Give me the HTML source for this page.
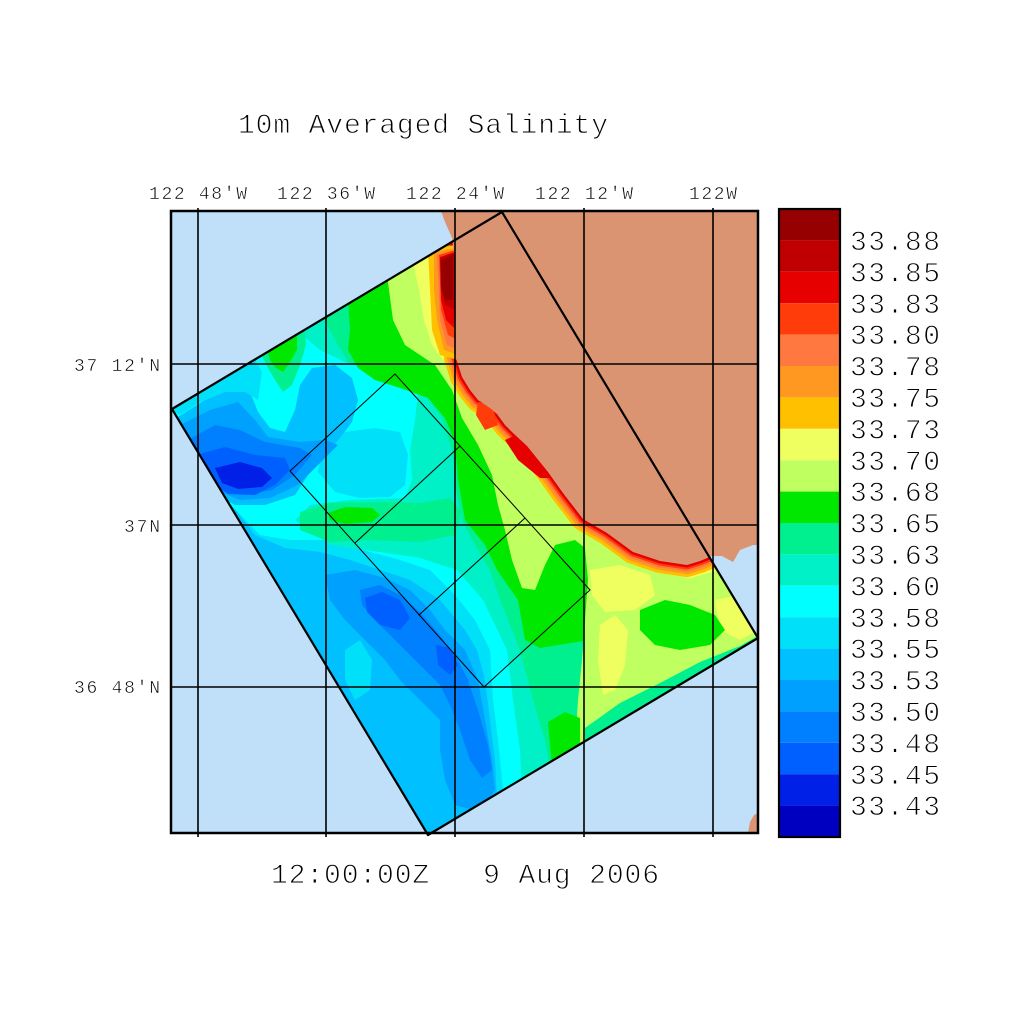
<!DOCTYPE html>
<html>
<head>
<meta charset="utf-8">
<style>
html,body{margin:0;padding:0;background:#fff;}
svg{display:block;}
text{font-family:"Liberation Mono","DejaVu Sans Mono",monospace;fill:#000;}
</style>
</head>
<body>
<svg width="1024" height="1024" viewBox="0 0 1024 1024" xmlns="http://www.w3.org/2000/svg">
<rect width="1024" height="1024" fill="#fff"/>
<defs>
<clipPath id="dom"><polygon points="172,409 502,212 758,638 428,835"/></clipPath>
<clipPath id="frm"><rect x="171" y="211" width="587" height="622"/></clipPath>
</defs>

<rect x="171" y="211" width="587" height="622" fill="#c0e0fa"/>

<g clip-path="url(#dom)">
  <rect x="150" y="200" width="620" height="650" fill="#00c0ff"/>
  <polygon fill="#00e0f8" points="150,100 150,470 228,500 255,535 285,548 320,552 350,560 380,570 410,580 440,600 465,630 477,650 485,680 490,720 495,760 497,800 490,850 900,900 900,100"/>
  <polygon fill="#00ffff" points="150,100 150,480 226,500 260,535 290,540 330,540 370,552 400,560 430,570 455,595 475,620 490,650 493,700 498,740 503,790 505,850 900,900 900,100"/>
  <polygon fill="#00f0c8" points="300,100 300,333 320,350 345,362 380,372 405,378 418,392 415,420 410,450 412,480 405,498 350,500 310,505 295,520 330,545 380,552 420,558 457,570 483,600 507,650 513,700 520,750 522,790 525,850 900,900 900,100"/>
  <polygon fill="#00f090" points="322,100 322,315 335,340 348,362 390,378 422,390 442,418 452,450 456,490 462,520 475,545 490,570 500,600 520,650 533,700 545,740 550,768 555,850 900,900 900,100"/>
  <polygon fill="#00e800" points="348,100 348,298 350,330 348,350 358,368 375,380 400,388 428,398 445,418 455,442 458,480 465,520 485,545 497,570 518,600 525,640 540,648 590,640 900,640 900,100"/>
  <polygon fill="#c0ff60" points="387,100 387,275 393,320 405,345 435,365 452,390 462,418 478,445 492,475 498,505 505,530 512,560 522,588 535,590 545,565 555,545 575,540 585,548 588,580 585,620 582,660 578,700 575,745 580,850 900,850 900,100"/>
  <polygon fill="#f0ff60" points="413,262 419,290 424,320 432,345 447,365 464,392 480,410 497,430 517,455 537,478 557,500 577,522 600,540 630,558 660,572 690,578 720,570 760,560 760,180 440,180 414,230"/>

  <polygon fill="#00e0f8" points="322,452 345,432 375,428 400,432 408,455 405,485 390,497 360,498 335,492 318,472"/>
  <polygon fill="#00f090" points="300,512 330,503 380,502 420,503 450,498 462,512 455,535 420,542 370,540 330,542 300,530"/>
  <polygon fill="#00e800" points="328,513 345,507 372,508 380,515 372,522 345,524 330,520"/>

  <polygon fill="#00c0ff" points="178,417 205,400 235,388 250,392 258,412 270,428 285,432 295,410 300,385 312,368 335,365 352,378 358,400 352,422 340,438 325,455 308,475 295,495 265,505 235,505 210,490 190,460"/>
  <polygon fill="#00e0f8" points="165,405 252,355 262,372 258,400 245,392 225,392 200,402 180,415"/>
  <polygon fill="#00a0ff" points="180,425 210,410 238,402 255,420 268,437 300,442 325,440 338,445 318,465 298,485 270,498 240,500 215,490 195,465"/>
  <polygon fill="#0080ff" points="188,440 215,425 240,430 265,442 300,448 312,455 295,475 272,490 245,495 220,490 200,470"/>
  <polygon fill="#0060ff" points="196,455 225,447 255,455 285,458 290,470 275,485 255,495 228,494 208,480"/>
  <polygon fill="#0020e8" points="215,468 240,462 262,468 272,478 262,487 238,489 222,483"/>

  <polygon fill="#00f090" points="262,356 305,330 306,345 300,365 292,385 283,392 275,380 268,368"/>
  <polygon fill="#00e800" points="268,352 297,334 297,350 290,362 283,372 276,368 270,360"/>

  <polygon fill="#00e0f8" points="345,650 360,640 372,660 370,690 355,700 345,680"/>
  <polygon fill="#00a0ff" points="325,575 355,570 385,578 410,590 430,610 445,630 465,650 478,680 485,720 492,760 495,790 480,812 455,805 445,780 440,750 440,720 420,700 400,680 385,660 365,640 345,620 330,600"/>
  <polygon fill="#0080ff" points="360,590 380,585 400,595 420,612 440,635 455,655 468,680 478,710 488,745 492,770 482,778 470,760 460,730 450,705 440,685 420,665 395,640 375,620 362,605"/>
  <polygon fill="#0060ff" points="365,598 382,592 400,600 410,618 400,630 380,625 367,612"/>
  <polygon fill="#0060ff" points="436,645 450,648 458,665 450,675 438,665"/>

  <polygon fill="#00e800" points="548,722 565,712 580,718 580,748 552,768"/>
  <polygon fill="#00f090" points="585,728 620,703 660,683 700,662 740,646 765,632 765,720 585,780"/>
  <polygon fill="#f0ff60" points="590,570 620,565 650,575 655,595 635,610 605,612 592,595"/>
  <polygon fill="#f0ff60" points="600,625 615,615 628,630 625,665 615,690 603,695 598,660"/>
  <polygon fill="#f0ff60" points="715,600 740,595 758,630 740,640 720,630"/>
  <polygon fill="#00e800" points="640,610 665,600 690,605 715,615 725,630 710,645 680,650 655,645 640,630"/>

  <g fill="none" stroke-linejoin="round" stroke-linecap="round">
    <path d="M445,200 L450,230 L454,250 L455,290 L454,330 L456,358 L462,377 L470,390 L478,400 L490,408 L497,414 L505,425 L513,433 L527,446 L548,472 L563,493 L583,519 L607,533 L633,552 L660,561 L687,565 L700,561 L712,556 L730,558" stroke="#ffc000" stroke-width="24"/>
    <path d="M445,200 L450,230 L454,250 L455,290 L454,330 L456,358 L462,377 L470,390 L478,400 L490,408 L497,414 L505,425 L513,433 L527,446 L548,472 L563,493 L583,519 L607,533 L633,552 L660,561 L687,565 L700,561 L712,556 L730,558" stroke="#ff9820" stroke-width="18"/>
    <path d="M445,200 L450,230 L454,250 L455,290 L454,330 L456,358 L462,377 L470,390 L478,400 L490,408 L497,414 L505,425 L513,433 L527,446 L548,472 L563,493 L583,519 L607,533 L633,552 L660,561 L687,565 L700,561 L712,556 L730,558" stroke="#ff7840" stroke-width="13"/>
    <path d="M445,200 L450,230 L454,250 L455,290 L454,330 L456,358 L462,377 L470,390 L478,400 L490,408 L497,414 L505,425 L513,433 L527,446 L548,472 L563,493 L583,519 L607,533 L633,552 L660,561 L687,565 L700,561 L712,556 L730,558" stroke="#ff3c0a" stroke-width="9"/>
    <path d="M445,200 L450,230 L454,250 L455,290 L454,330 L456,358 L462,377 L470,390 L478,400 L490,408 L497,414 L505,425 L513,433 L527,446 L548,472 L563,493 L583,519 L607,533 L633,552 L660,561 L687,565 L700,561 L712,556 L730,558" stroke="#e60000" stroke-width="5"/>
  </g>
  <polygon fill="#ffc000" points="428,250 455,245 458,360 440,355 432,330 430,290"/>
  <polygon fill="#ff9820" points="434,252 455,248 458,355 444,350 437,320 434,290"/>
  <polygon fill="#ff7840" points="437,255 455,250 458,350 447,345 440,320"/>
  <polygon fill="#ff3c0a" points="439,255 455,250 458,340 448,335 441,310"/>
  <polygon fill="#e60000" points="440,257 455,252 456,330 446,320 441,300"/>
  <polygon fill="#c00000" points="440,258 455,252 455,310 445,305 441,290"/>
  <polygon fill="#960000" points="441,260 453,255 453,300 445,300 441,285"/>
  <polygon fill="#e60000" points="505,440 520,433 548,465 552,478 540,478 518,460"/>
  <polygon fill="#ff3c0a" points="478,402 492,405 498,425 485,430 476,415"/>
</g>

<g clip-path="url(#frm)">
  <polygon fill="#da9472" points="441,211 758,211 758,545 753,545 740,550 733,562 722,556 712,556 700,561 687,565 660,561 633,552 607,533 583,519 563,493 548,472 527,446 513,433 505,425 497,414 490,408 478,400 470,390 462,377 456,358 454,330 455,290 455,260 452,238 445,222"/>
  <polygon fill="#da9472" points="748,833 750,822 754,815 758,813 758,833"/>
</g>

<g stroke="#000" stroke-width="1.6">
  <line x1="198" y1="208" x2="198" y2="837"/>
  <line x1="326" y1="208" x2="326" y2="837"/>
  <line x1="455" y1="208" x2="455" y2="837"/>
  <line x1="584" y1="208" x2="584" y2="837"/>
  <line x1="713" y1="208" x2="713" y2="837"/>
  <line x1="171" y1="364" x2="758" y2="364"/>
  <line x1="171" y1="525" x2="758" y2="525"/>
  <line x1="171" y1="687" x2="758" y2="687"/>
</g>

<g stroke="#000" stroke-width="1" fill="none">
  <polygon points="395,374 590,590 484,687 290,471"/>
  <line x1="460" y1="446" x2="355" y2="543"/>
  <line x1="525" y1="518" x2="419" y2="615"/>
</g>

<polygon points="172,409 502,212 758,638 428,835" fill="none" stroke="#000" stroke-width="2.2" stroke-linejoin="round"/>

<rect x="171" y="211" width="587" height="622" fill="none" stroke="#000" stroke-width="2.5"/>

<g>
  <rect x="779" y="209.0" width="61" height="31.4" fill="#960000"/>
  <rect x="779" y="240.4" width="61" height="31.4" fill="#c00000"/>
  <rect x="779" y="271.8" width="61" height="31.4" fill="#e60000"/>
  <rect x="779" y="303.2" width="61" height="31.4" fill="#ff3c0a"/>
  <rect x="779" y="334.6" width="61" height="31.4" fill="#ff7840"/>
  <rect x="779" y="366.0" width="61" height="31.4" fill="#ff9820"/>
  <rect x="779" y="397.4" width="61" height="31.4" fill="#ffc000"/>
  <rect x="779" y="428.8" width="61" height="31.4" fill="#f0ff60"/>
  <rect x="779" y="460.2" width="61" height="31.4" fill="#c0ff60"/>
  <rect x="779" y="491.6" width="61" height="31.4" fill="#00e800"/>
  <rect x="779" y="523.0" width="61" height="31.4" fill="#00f090"/>
  <rect x="779" y="554.4" width="61" height="31.4" fill="#00f0c8"/>
  <rect x="779" y="585.8" width="61" height="31.4" fill="#00ffff"/>
  <rect x="779" y="617.2" width="61" height="31.4" fill="#00e0f8"/>
  <rect x="779" y="648.6" width="61" height="31.4" fill="#00c0ff"/>
  <rect x="779" y="680.0" width="61" height="31.4" fill="#00a0ff"/>
  <rect x="779" y="711.4" width="61" height="31.4" fill="#0080ff"/>
  <rect x="779" y="742.8" width="61" height="31.4" fill="#0060ff"/>
  <rect x="779" y="774.2" width="61" height="31.4" fill="#0020e8"/>
  <rect x="779" y="805.6" width="61" height="31.4" fill="#0000c0"/>
  <rect x="779" y="209" width="61" height="628" fill="none" stroke="#000" stroke-width="2.2"/>
</g>

<g font-size="28" stroke="#fff" stroke-width="0.9">
  <text x="850" y="250.0" textLength="90" lengthAdjust="spacing">33.88</text>
  <text x="850" y="281.4" textLength="90" lengthAdjust="spacing">33.85</text>
  <text x="850" y="312.8" textLength="90" lengthAdjust="spacing">33.83</text>
  <text x="850" y="344.2" textLength="90" lengthAdjust="spacing">33.80</text>
  <text x="850" y="375.6" textLength="90" lengthAdjust="spacing">33.78</text>
  <text x="850" y="407.0" textLength="90" lengthAdjust="spacing">33.75</text>
  <text x="850" y="438.4" textLength="90" lengthAdjust="spacing">33.73</text>
  <text x="850" y="469.8" textLength="90" lengthAdjust="spacing">33.70</text>
  <text x="850" y="501.2" textLength="90" lengthAdjust="spacing">33.68</text>
  <text x="850" y="532.6" textLength="90" lengthAdjust="spacing">33.65</text>
  <text x="850" y="564.0" textLength="90" lengthAdjust="spacing">33.63</text>
  <text x="850" y="595.4" textLength="90" lengthAdjust="spacing">33.60</text>
  <text x="850" y="626.8" textLength="90" lengthAdjust="spacing">33.58</text>
  <text x="850" y="658.2" textLength="90" lengthAdjust="spacing">33.55</text>
  <text x="850" y="689.6" textLength="90" lengthAdjust="spacing">33.53</text>
  <text x="850" y="721.0" textLength="90" lengthAdjust="spacing">33.50</text>
  <text x="850" y="752.4" textLength="90" lengthAdjust="spacing">33.48</text>
  <text x="850" y="783.8" textLength="90" lengthAdjust="spacing">33.45</text>
  <text x="850" y="815.2" textLength="90" lengthAdjust="spacing">33.43</text>
</g>

<g font-size="18" stroke="#fff" stroke-width="0.5">
  <text x="149" y="199" textLength="98" lengthAdjust="spacing">122 48'W</text>
  <text x="277" y="199" textLength="98" lengthAdjust="spacing">122 36'W</text>
  <text x="406" y="199" textLength="98" lengthAdjust="spacing">122 24'W</text>
  <text x="535" y="199" textLength="98" lengthAdjust="spacing">122 12'W</text>
  <text x="689" y="199" textLength="48" lengthAdjust="spacing">122W</text>
  <text x="74" y="371" textLength="86" lengthAdjust="spacing">37 12'N</text>
  <text x="124" y="532" textLength="36" lengthAdjust="spacing">37N</text>
  <text x="74" y="693" textLength="86" lengthAdjust="spacing">36 48'N</text>
</g>

<g font-size="28" stroke="#fff" stroke-width="0.9">
<text x="238" y="133" textLength="370" lengthAdjust="spacing">10m Averaged Salinity</text>
<text x="271" y="883" textLength="388" lengthAdjust="spacing" style="white-space:pre" xml:space="preserve">12:00:00Z   9 Aug 2006</text>
</g>
</svg>
</body>
</html>
